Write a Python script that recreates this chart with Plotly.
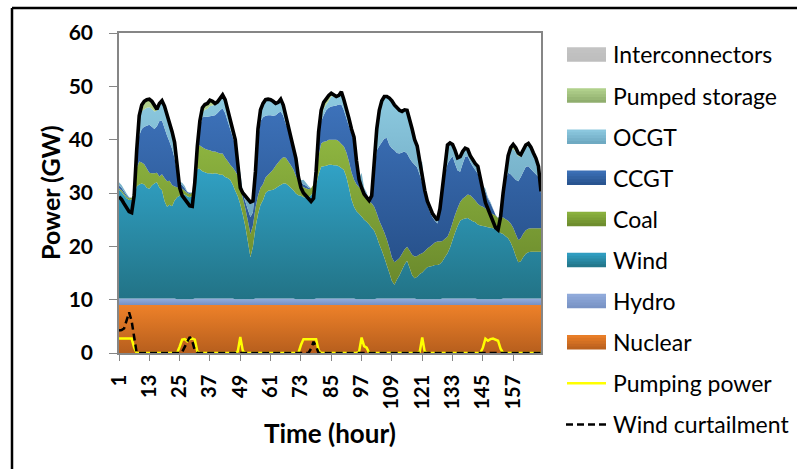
import numpy as np
import plotly.graph_objects as go

hours = list(range(1, 169))
x_tick_labels = [str(h) for h in range(1, 169, 12)]

nuclear = [
    9.0, 9.0, 9.0, 9.0, 9.0, 9.0, 9.0, 9.0, 9.0, 9.0, 9.0, 9.0, 9.0, 9.0, 9.0, 9.0, 9.0, 9.0, 9.0, 9.0, 9.0, 9.0, 9.0, 9.0,
    9.0, 9.0, 9.0, 9.0, 9.0, 9.0, 9.0, 9.0, 9.0, 9.0, 9.0, 9.0, 9.0, 9.0, 9.0, 9.0, 9.0, 9.0, 9.0, 9.0, 9.0, 9.0, 9.0, 9.0,
    9.0, 9.0, 9.0, 9.0, 9.0, 9.0, 9.0, 9.0, 9.0, 9.0, 9.0, 9.0, 9.0, 9.0, 9.0, 9.0, 9.0, 9.0, 9.0, 9.0, 9.0, 9.0, 9.0, 9.0,
    9.0, 9.0, 9.0, 9.0, 9.0, 9.0, 9.0, 9.0, 9.0, 9.0, 9.0, 9.0, 9.0, 9.0, 9.0, 9.0, 9.0, 9.0, 9.0, 9.0, 9.0, 9.0, 9.0, 9.0,
    9.0, 9.0, 9.0, 9.0, 9.0, 9.0, 9.0, 9.0, 9.0, 9.0, 9.0, 9.0, 9.0, 9.0, 9.0, 9.0, 9.0, 9.0, 9.0, 9.0, 9.0, 9.0, 9.0, 9.0,
    9.0, 9.0, 9.0, 9.0, 9.0, 9.0, 9.0, 9.0, 9.0, 9.0, 9.0, 9.0, 9.0, 9.0, 9.0, 9.0, 9.0, 9.0, 9.0, 9.0, 9.0, 9.0, 9.0, 9.0,
    9.0, 9.0, 9.0, 9.0, 9.0, 9.0, 9.0, 9.0, 9.0, 9.0, 9.0, 9.0, 9.0, 9.0, 9.0, 9.0, 9.0, 9.0, 9.0, 9.0, 9.0, 9.0, 9.0, 9.0,
]
hydro = [
    1.2, 1.2, 1.2, 1.2, 1.2, 1.2, 1.2, 1.2, 1.2, 1.2, 1.2, 1.2, 1.2, 1.2, 1.2, 1.2, 1.2, 1.2, 1.2, 1.2, 1.2, 1.2, 1.2, 1.1,
    1.1, 1.1, 1.1, 1.1, 1.1, 1.1, 1.2, 1.2, 1.2, 1.2, 1.2, 1.2, 1.2, 1.2, 1.2, 1.2, 1.2, 1.2, 1.2, 1.2, 1.2, 1.2, 1.1, 1.1,
    1.1, 1.1, 1.1, 1.1, 1.1, 1.1, 1.2, 1.2, 1.2, 1.2, 1.2, 1.2, 1.2, 1.2, 1.2, 1.2, 1.2, 1.2, 1.2, 1.2, 1.2, 1.2, 1.1, 1.1,
    1.1, 1.1, 1.1, 1.1, 1.1, 1.1, 1.2, 1.2, 1.2, 1.2, 1.2, 1.2, 1.2, 1.2, 1.2, 1.2, 1.2, 1.2, 1.2, 1.2, 1.2, 1.2, 1.1, 1.1,
    1.1, 1.1, 1.1, 1.1, 1.1, 1.1, 1.2, 1.2, 1.2, 1.2, 1.2, 1.2, 1.2, 1.2, 1.2, 1.2, 1.2, 1.2, 1.2, 1.2, 1.2, 1.2, 1.1, 1.1,
    1.1, 1.1, 1.1, 1.1, 1.1, 1.1, 1.1, 1.1, 1.2, 1.2, 1.2, 1.2, 1.2, 1.2, 1.2, 1.2, 1.2, 1.2, 1.2, 1.2, 1.2, 1.2, 1.1, 1.1,
    1.1, 1.1, 1.1, 1.1, 1.1, 1.1, 1.1, 1.1, 1.2, 1.2, 1.2, 1.2, 1.2, 1.2, 1.2, 1.2, 1.2, 1.2, 1.2, 1.2, 1.2, 1.2, 1.2, 1.2,
]
wind = [
    20.4, 20.0, 19.4, 18.8, 18.5, 18.6, 19.3, 21.0, 21.4, 21.6, 21.4, 20.8, 20.6, 21.2, 21.6, 21.8, 20.8, 20.3, 18.3, 17.2, 17.6, 17.3, 18.4, 19.1,
    19.4, 19.7, 19.6, 19.3, 19.1, 19.4, 21.3, 24.4, 24.3, 23.9, 23.7, 23.5, 23.5, 23.4, 23.5, 23.4, 23.2, 23.2, 22.8, 22.6, 22.3, 21.4, 20.3, 19.3,
    17.8, 15.8, 13.6, 10.8, 7.9, 9.8, 13.3, 15.8, 17.6, 18.5, 19.8, 20.2, 20.3, 20.4, 20.7, 21.0, 21.3, 21.6, 21.6, 21.2, 20.8, 20.3, 19.8, 19.5,
    19.4, 19.1, 19.1, 19.1, 19.5, 20.2, 21.3, 23.3, 24.7, 24.8, 24.9, 25.1, 25.1, 25.0, 25.0, 24.8, 24.5, 24.1, 22.8, 20.8, 18.6, 17.2, 16.5, 16.0,
    15.5, 14.9, 14.5, 14.0, 13.4, 12.8, 11.6, 10.2, 9.0, 7.7, 6.2, 4.8, 3.3, 2.6, 3.6, 4.4, 5.4, 6.4, 7.1, 5.8, 4.4, 3.8, 4.2, 4.7,
    5.0, 5.5, 6.0, 6.1, 6.2, 6.4, 6.4, 6.6, 7.0, 7.8, 8.5, 9.6, 11.0, 12.4, 13.6, 14.6, 14.9, 15.0, 15.1, 14.8, 14.5, 14.3, 14.0, 13.8,
    13.7, 13.6, 13.5, 13.4, 13.3, 13.1, 12.8, 12.4, 12.1, 11.7, 11.3, 10.5, 9.4, 8.0, 6.8, 7.0, 7.8, 8.4, 8.7, 8.8, 8.8, 8.8, 8.8, 8.8,
]
coal = [
    0.3, 0.3, 0.3, 0.3, 0.3, 0.3, 0.8, 3.5, 4.3, 3.9, 3.8, 3.6, 3.0, 2.3, 1.9, 1.8, 2.1, 3.0, 4.3, 4.8, 4.5, 4.0, 2.6, 1.9,
    1.4, 1.0, 0.7, 0.6, 0.6, 0.6, 2.0, 4.2, 4.4, 4.5, 4.4, 4.4, 4.3, 4.2, 4.1, 4.0, 4.0, 4.0, 3.6, 3.2, 2.8, 3.2, 3.7, 3.9,
    3.5, 3.1, 3.4, 3.9, 4.3, 4.0, 3.7, 3.5, 3.2, 3.0, 2.9, 3.0, 3.4, 3.8, 4.2, 4.5, 4.8, 4.9, 4.8, 4.5, 4.2, 3.9, 3.3, 2.6,
    2.2, 1.9, 1.7, 1.5, 1.3, 1.3, 2.0, 3.6, 4.4, 4.6, 4.6, 4.7, 4.7, 4.8, 4.8, 4.7, 4.5, 4.4, 4.6, 4.9, 5.1, 5.1, 5.0, 5.0,
    5.0, 4.9, 4.8, 4.3, 4.6, 4.5, 4.4, 4.4, 4.5, 4.7, 4.9, 4.7, 4.4, 4.2, 3.6, 3.2, 3.0, 2.8, 2.6, 3.2, 3.8, 4.1, 3.9, 3.7,
    3.6, 3.5, 3.5, 3.7, 4.0, 4.2, 4.4, 4.2, 3.8, 3.4, 3.1, 3.1, 3.2, 3.3, 3.4, 3.5, 3.8, 4.1, 4.4, 4.6, 4.4, 4.1, 3.9, 3.7,
    3.6, 3.4, 3.1, 2.8, 2.6, 2.6, 2.4, 3.0, 3.1, 3.2, 3.3, 3.6, 3.9, 4.1, 4.2, 4.3, 4.4, 4.4, 4.4, 4.4, 4.4, 4.4, 4.4, 4.4,
]
ccgt = [
    0.5, 0.5, 0.4, 0.3, 0.1, 0.0, 0.2, 2.8, 4.9, 6.3, 7.0, 8.0, 9.0, 8.7, 8.3, 8.7, 10.4, 10.1, 9.4, 8.6, 7.3, 6.8, 5.3, 2.8,
    0.8, 0.7, 0.5, 0.2, 0.2, 0.0, 0.8, 0.3, 3.6, 5.6, 6.0, 6.2, 6.4, 6.7, 6.8, 7.4, 8.1, 8.5, 8.4, 7.5, 6.7, 5.7, 5.0, 1.6,
    0.5, 0.9, 1.3, 2.1, 3.2, 2.5, 5.3, 10.5, 12.5, 12.5, 11.6, 11.2, 10.7, 10.1, 9.5, 9.3, 9.0, 7.8, 6.4, 6.1, 5.1, 4.1, 2.7, 0.4,
    0.4, 0.5, 0.5, 0.3, 0.0, 0.0, 2.8, 3.9, 4.2, 5.0, 5.8, 6.0, 6.2, 6.3, 6.4, 6.9, 7.4, 6.8, 6.4, 6.6, 7.3, 7.3, 3.8, 1.2,
    1.0, 0.6, 0.4, 0.1, 1.2, 6.5, 11.8, 14.0, 15.8, 17.6, 19.0, 19.3, 20.5, 21.0, 20.1, 19.6, 19.0, 18.4, 17.5, 17.3, 17.4, 17.2, 16.6, 14.9,
    13.2, 10.6, 8.2, 6.6, 5.2, 4.1, 3.4, 5.5, 9.5, 12.1, 13.7, 13.4, 12.5, 9.6, 7.0, 5.7, 6.6, 7.5, 7.2, 6.2, 5.9, 5.7, 5.6, 4.3,
    3.5, 3.2, 2.2, 1.8, 1.0, 0.1, 0.0, 0.7, 4.1, 7.4, 9.0, 9.2, 9.5, 10.2, 11.0, 11.5, 11.6, 11.9, 11.7, 11.1, 10.6, 10.1, 9.6, 6.6,
]
ocgt = [
    0.6, 0.5, 0.4, 0.3, 0.1, 0.0, 0.0, 0.5, 2.8, 3.3, 3.3, 3.4, 3.3, 3.4, 3.3, 2.9, 3.0, 3.2, 3.9, 4.0, 3.4, 3.2, 3.0, 1.5,
    0.4, 0.4, 0.4, 0.1, 0.1, 0.0, 0.2, 0.0, 0.7, 0.9, 1.3, 1.5, 1.9, 1.9, 2.0, 2.1, 2.3, 2.5, 2.5, 2.0, 1.5, 1.0, 0.8, 0.8,
    2.0, 0.4, 0.9, 1.8, 2.7, 2.0, 1.5, 2.0, 2.1, 2.6, 3.0, 3.0, 2.9, 2.7, 2.2, 2.0, 2.3, 2.0, 1.5, 1.0, 0.7, 0.5, 0.5, 0.3,
    0.3, 0.9, 0.5, 0.3, 0.0, 0.0, 0.3, 0.7, 0.8, 1.2, 1.1, 1.3, 1.9, 1.9, 1.7, 1.7, 2.4, 2.0, 2.0, 1.5, 0.8, 0.7, 0.5, 0.3,
    2.2, 0.5, 0.3, 0.0, 0.1, 1.0, 4.0, 6.7, 7.8, 7.9, 7.8, 8.8, 8.9, 8.5, 8.5, 8.1, 7.7, 7.8, 8.1, 7.5, 6.2, 4.7, 3.9, 2.7,
    3.9, 0.9, 0.6, 0.6, 0.6, 0.6, 0.5, 0.5, 1.0, 2.5, 3.5, 3.1, 2.2, 2.5, 2.4, 2.8, 2.3, 1.6, 1.3, 1.2, 1.2, 1.2, 1.3, 1.0,
    0.5, 0.5, 0.3, 0.2, 0.1, 0.0, 0.0, 0.0, 0.5, 1.5, 3.2, 4.5, 5.3, 5.2, 4.7, 3.9, 3.9, 3.6, 3.9, 3.9, 3.5, 3.0, 2.0, 0.3,
]
pumped_storage = [
    0.0, 0.0, 0.0, 0.0, 0.0, 0.0, 0.0, 0.0, 0.5, 1.2, 1.5, 1.5, 1.5, 1.4, 1.0, 0.3, 0.3, 0.5, 0.2, 0.0, 0.0, 0.0, 0.0, 0.0,
    0.0, 0.0, 0.0, 0.0, 0.0, 0.0, 0.0, 0.0, 0.3, 0.9, 1.0, 1.0, 1.1, 0.8, 0.2, 0.0, 0.0, 0.0, 0.0, 0.0, 0.0, 0.0, 0.0, 0.0,
    0.0, 0.0, 0.0, 0.0, 0.0, 0.0, 0.0, 0.0, 0.0, 0.0, 0.0, 0.0, 0.0, 0.0, 0.0, 0.0, 0.0, 0.0, 0.0, 0.0, 0.0, 0.0, 0.0, 0.0,
    0.0, 0.0, 0.0, 0.0, 0.0, 0.0, 0.0, 0.3, 1.0, 1.2, 1.2, 1.0, 0.6, 0.2, 0.0, 0.0, 0.0, 0.0, 0.0, 0.0, 0.0, 0.0, 0.0, 0.0,
    0.0, 0.0, 0.0, 0.0, 0.0, 0.0, 0.0, 0.0, 0.0, 0.0, 0.0, 0.0, 0.0, 0.0, 0.0, 0.0, 0.0, 0.0, 0.0, 0.0, 0.0, 0.0, 0.0, 0.0,
    0.0, 0.0, 0.0, 0.0, 0.0, 0.0, 0.0, 0.0, 0.0, 0.0, 0.0, 0.0, 0.0, 0.0, 0.0, 0.0, 0.0, 0.0, 0.0, 0.0, 0.0, 0.0, 0.0, 0.0,
    0.0, 0.0, 0.0, 0.0, 0.0, 0.0, 0.0, 0.0, 0.0, 0.0, 0.0, 0.5, 0.8, 0.8, 0.6, 0.3, 0.3, 0.5, 0.4, 0.2, 0.0, 0.0, 0.0, 0.0,
]
interconnectors = [
    0.0, 0.0, 0.0, 0.0, 0.0, 0.0, 0.0, 0.0, 0.0, 0.0, 0.0, 0.0, 0.0, 0.0, 0.0, 0.0, 0.0, 0.0, 0.0, 0.0, 0.0, 0.0, 0.0, 0.0,
    0.0, 0.0, 0.0, 0.0, 0.0, 0.0, 0.0, 0.0, 0.0, 0.0, 0.0, 0.0, 0.0, 0.0, 0.0, 0.0, 0.0, 0.0, 0.0, 0.0, 0.0, 0.0, 0.0, 0.0,
    0.0, 0.0, 0.0, 0.0, 0.0, 0.0, 0.0, 0.0, 0.0, 0.0, 0.0, 0.0, 0.0, 0.0, 0.0, 0.0, 0.0, 0.0, 0.0, 0.0, 0.0, 0.0, 0.0, 0.0,
    0.0, 0.0, 0.0, 0.0, 0.0, 0.0, 0.0, 0.0, 0.0, 0.0, 0.0, 0.0, 0.0, 0.0, 0.0, 0.0, 0.0, 0.0, 0.0, 0.0, 0.0, 0.0, 0.0, 0.0,
    0.0, 0.0, 0.0, 0.0, 0.0, 0.0, 0.0, 0.0, 0.0, 0.0, 0.0, 0.0, 0.0, 0.0, 0.0, 0.0, 0.0, 0.0, 0.0, 0.0, 0.0, 0.0, 0.0, 0.0,
    0.0, 0.0, 0.0, 0.0, 0.0, 0.0, 0.0, 0.0, 0.0, 0.0, 0.0, 0.0, 0.0, 0.0, 0.0, 0.0, 0.0, 0.0, 0.0, 0.0, 0.0, 0.0, 0.0, 0.0,
    0.0, 0.0, 0.0, 0.0, 0.0, 0.0, 0.0, 0.0, 0.0, 0.0, 0.0, 0.0, 0.0, 0.0, 0.0, 0.0, 0.0, 0.0, 0.0, 0.0, 0.0, 0.0, 0.0, 0.0,
]
demand = [
    29.3, 28.8, 28.0, 27.2, 26.5, 26.3, 29.5, 38.0, 44.5, 46.5, 47.2, 47.5, 47.6, 47.2, 46.3, 45.7, 46.8, 47.3, 46.3, 44.8, 43.0, 41.5, 39.5, 35.5,
    31.0, 29.5, 28.8, 28.2, 27.6, 27.5, 32.0, 38.8, 43.5, 46.0, 46.6, 46.8, 47.4, 47.2, 46.8, 47.1, 47.8, 48.4, 47.5, 45.5, 43.5, 41.5, 40.0, 35.5,
    31.0, 30.0, 29.4, 28.8, 28.3, 28.5, 34.0, 42.0, 45.6, 46.8, 47.5, 47.6, 47.5, 47.2, 46.8, 47.0, 47.6, 46.5, 44.5, 43.0, 41.0, 39.0, 36.5, 33.0,
    31.0, 30.0, 29.4, 28.8, 28.4, 29.0, 34.0, 41.5, 45.5, 47.0, 47.8, 48.3, 48.7, 48.4, 48.1, 48.3, 49.0, 47.5, 46.0, 44.0, 42.0, 40.5, 36.0, 32.5,
    31.0, 29.8, 29.2, 28.6, 29.5, 35.0, 42.0, 45.5, 47.3, 48.1, 48.1, 47.8, 47.3, 46.5, 46.0, 45.5, 45.3, 45.6, 45.5, 44.0, 42.0, 40.0, 38.8, 36.0,
    33.0, 30.5, 28.5, 27.2, 26.2, 25.5, 24.9, 27.0, 31.5, 36.0, 39.0, 39.4, 39.1, 38.0, 36.6, 36.8, 37.8, 38.4, 38.2, 37.0, 36.2, 35.5, 35.0, 33.0,
    30.5, 28.2, 27.0, 25.8, 24.5, 23.5, 23.1, 25.5, 30.0, 34.0, 37.0, 38.5, 39.1, 38.5, 37.5, 37.2, 38.2, 39.0, 39.3, 38.6, 37.5, 36.5, 35.0, 30.3,
]
pumping_power = [
    2.7, 2.7, 2.7, 2.7, 2.7, 2.7, 1.0, 0.0, 0.0, 0.0, 0.0, 0.0, 0.0, 0.0, 0.0, 0.0, 0.0, 0.0, 0.0, 0.0, 0.0, 0.0, 0.0, 0.0,
    1.2, 2.5, 2.6, 2.2, 2.6, 2.7, 2.5, 0.3, 0.0, 0.0, 0.0, 0.0, 0.0, 0.0, 0.0, 0.0, 0.0, 0.0, 0.0, 0.0, 0.0, 0.0, 0.0, 0.3,
    3.0, 0.4, 0.0, 0.0, 0.0, 0.0, 0.0, 0.0, 0.0, 0.0, 0.0, 0.0, 0.0, 0.0, 0.0, 0.0, 0.0, 0.0, 0.0, 0.0, 0.0, 0.0, 0.0, 0.0,
    1.5, 2.6, 2.6, 2.6, 2.6, 2.7, 2.6, 0.5, 0.0, 0.0, 0.0, 0.0, 0.0, 0.0, 0.0, 0.0, 0.0, 0.0, 0.0, 0.0, 0.0, 0.0, 0.0, 0.2,
    2.9, 1.3, 1.0, 0.0, 0.0, 0.0, 0.0, 0.0, 0.0, 0.0, 0.0, 0.0, 0.0, 0.0, 0.0, 0.0, 0.0, 0.0, 0.0, 0.0, 0.0, 0.0, 0.0, 0.2,
    2.9, 0.2, 0.0, 0.0, 0.0, 0.0, 0.0, 0.0, 0.0, 0.0, 0.0, 0.0, 0.0, 0.0, 0.0, 0.0, 0.0, 0.0, 0.0, 0.0, 0.0, 0.0, 0.0, 0.0,
    1.0, 2.7, 2.3, 2.6, 2.7, 2.5, 2.3, 0.8, 0.0, 0.0, 0.0, 0.0, 0.0, 0.0, 0.0, 0.0, 0.0, 0.0, 0.0, 0.0, 0.0, 0.0, 0.0, 0.0,
]
wind_curtailment = [
    4.2, 4.3, 4.6, 6.0, 7.6, 6.0, 2.5, 0.0, 0.0, 0.0, 0.0, 0.0, 0.0, 0.0, 0.0, 0.0, 0.0, 0.0, 0.0, 0.0, 0.0, 0.0, 0.0, 0.0,
    0.0, 0.2, 1.2, 2.3, 3.0, 2.2, 0.5, 0.0, 0.0, 0.0, 0.0, 0.0, 0.0, 0.0, 0.0, 0.0, 0.0, 0.0, 0.0, 0.0, 0.0, 0.0, 0.0, 0.0,
    0.0, 0.0, 0.0, 0.0, 0.0, 0.0, 0.0, 0.0, 0.0, 0.0, 0.0, 0.0, 0.0, 0.0, 0.0, 0.0, 0.0, 0.0, 0.0, 0.0, 0.0, 0.0, 0.0, 0.0,
    0.0, 0.0, 0.0, 0.0, 0.8, 2.1, 1.2, 0.0, 0.0, 0.0, 0.0, 0.0, 0.0, 0.0, 0.0, 0.0, 0.0, 0.0, 0.0, 0.0, 0.0, 0.0, 0.0, 0.0,
    0.0, 0.0, 0.0, 0.0, 0.0, 0.0, 0.0, 0.0, 0.0, 0.0, 0.0, 0.0, 0.0, 0.0, 0.0, 0.0, 0.0, 0.0, 0.0, 0.0, 0.0, 0.0, 0.0, 0.0,
    0.0, 0.0, 0.0, 0.0, 0.0, 0.0, 0.0, 0.0, 0.0, 0.0, 0.0, 0.0, 0.0, 0.0, 0.0, 0.0, 0.0, 0.0, 0.0, 0.0, 0.0, 0.0, 0.0, 0.0,
    0.0, 0.0, 0.0, 0.0, 0.0, 0.0, 0.0, 0.0, 0.0, 0.0, 0.0, 0.0, 0.0, 0.0, 0.0, 0.0, 0.0, 0.0, 0.0, 0.0, 0.0, 0.0, 0.0, 0.0,
]

legend_order = ["Interconnectors", "Pumped storage", "OCGT", "CCGT", "Coal",
                "Wind", "Hydro", "Nuclear", "Pumping power", "Wind curtailment"]

FONT = "Lato"

# (name, values, bottom colour, top colour)
areas = [
    ("Nuclear", nuclear, "#B65E1D", "#EE8129"),
    ("Hydro", hydro, "#7690C2", "#93ADDD"),
    ("Wind", wind, "#227386", "#31A2C6"),
    ("Coal", coal, "#6A892C", "#8EB540"),
    ("CCGT", ccgt, "#27518B", "#3D72BA"),
    ("OCGT", ocgt, "#6CA6BF", "#8ECBE1"),
    ("Pumped storage", pumped_storage, "#8CAA6A", "#B4D48F"),
    ("Interconnectors", interconnectors, "#BDBDBD", "#C4C4C4"),
]
area_colors = {n: (cb, ct) for n, _, cb, ct in areas}

fig = go.Figure()
base = np.zeros(len(hours))
for name, vals, c_bot, c_top in areas:
    v = np.asarray(vals, dtype=float)
    top = base + v
    lo = float(base.min())
    hi = float(max(top.max(), lo + 0.5))
    fig.add_trace(go.Scatter(
        x=hours, y=vals, name=name, stackgroup="gen", mode="none",
        fillgradient=dict(type="vertical", colorscale=[[0, c_bot], [1, c_top]],
                          start=lo, stop=hi),
        showlegend=False, hoverinfo="skip",
    ))
    base = top

fig.add_trace(go.Scatter(
    x=hours, y=demand, mode="lines", name="Demand",
    line=dict(color="black", width=3.6), showlegend=False, hoverinfo="skip",
))
fig.add_trace(go.Scatter(
    x=hours, y=pumping_power, mode="lines", name="Pumping power",
    line=dict(color="#FFFF00", width=2.5), showlegend=False,
))
fig.add_trace(go.Scatter(
    x=hours, y=wind_curtailment, mode="lines", name="Wind curtailment",
    line=dict(color="black", width=2.5, dash="7px,4px"), showlegend=False,
))

L, R, T, B = 119, 256, 33, 116
W, H = 797, 469
pw, ph = W - L - R, H - T - B


def px_x(p):
    return (p - L) / pw


def px_y(p):
    return (H - B - p) / ph


def mix(c1, c2, t):
    a = [int(c1[i:i + 2], 16) for i in (1, 3, 5)]
    b = [int(c2[i:i + 2], 16) for i in (1, 3, 5)]
    return "#" + "".join(f"{round(a[k] + (b[k] - a[k]) * t):02X}" for k in range(3))


shapes = [
    dict(type="line", xref="paper", yref="paper", x0=px_x(12), x1=px_x(820),
         y0=px_y(8), y1=px_y(8), line=dict(color="black", width=2.5)),
    dict(type="line", xref="paper", yref="paper", x0=px_x(12), x1=px_x(12),
         y0=px_y(8), y1=px_y(490), line=dict(color="black", width=2.5)),
]
annotations = [
    dict(text="<b>Power (GW)</b>", x=px_x(50), y=px_y(193), xref="paper", yref="paper",
         textangle=-90, showarrow=False, xanchor="center", yanchor="middle",
         font=dict(family=FONT, size=25, color="black")),
    dict(text="<b>Time (hour)</b>", x=px_x(330), y=px_y(433), xref="paper", yref="paper",
         showarrow=False, xanchor="center", yanchor="middle",
         font=dict(family=FONT, size=26, color="black")),
]

# legend (drawn manually to match swatch size and spacing)
sw_x0, sw_x1, sw_h = 567, 606, 14.5
text_x = 611
y_first, y_step = 54.5, 41.1
n_strips = 5
for i, name in enumerate(legend_order):
    yc = y_first + i * y_step
    if name in area_colors:
        c_bot, c_top = area_colors[name]
        top_px = yc - sw_h / 2
        for s in range(n_strips):
            t0 = top_px + s * sw_h / n_strips
            t1 = top_px + sw_h if s == n_strips - 1 else t0 + sw_h / n_strips + 1.0
            col = mix(c_top, c_bot, (s + 0.5) / n_strips)
            shapes.append(dict(type="rect", xref="paper", yref="paper",
                               x0=px_x(sw_x0), x1=px_x(sw_x1), y0=px_y(t1), y1=px_y(t0),
                               fillcolor=col, line=dict(width=0), layer="above"))
    elif name == "Pumping power":
        shapes.append(dict(type="line", xref="paper", yref="paper",
                           x0=px_x(sw_x0), x1=px_x(sw_x1), y0=px_y(yc), y1=px_y(yc),
                           line=dict(color="#FFFF00", width=2.5)))
    else:
        shapes.append(dict(type="line", xref="paper", yref="paper",
                           x0=px_x(sw_x0 - 1), x1=px_x(sw_x1), y0=px_y(yc), y1=px_y(yc),
                           line=dict(color="black", width=2.5, dash="7px,4px")))
    annotations.append(dict(text=name, x=px_x(text_x), y=px_y(yc), xref="paper", yref="paper",
                            showarrow=False, xanchor="left", yanchor="middle",
                            font=dict(family=FONT, size=23, color="black")))

fig.update_layout(
    width=W, height=H,
    margin=dict(l=L, r=R, t=T, b=B, pad=0),
    paper_bgcolor="white", plot_bgcolor="white",
    font=dict(family=FONT, color="black"),
    showlegend=False,
    xaxis=dict(
        range=[1, 168], tickmode="array",
        tickvals=[int(t) for t in x_tick_labels], ticktext=x_tick_labels,
        tickangle=-90, ticks="outside", ticklen=6, tickcolor="#868686",
        tickfont=dict(family=FONT, size=20, weight="bold", color="black"),
        showline=True, linecolor="#868686", linewidth=1.5, mirror=True,
        showgrid=False, zeroline=False, ticklabelstandoff=6,
    ),
    yaxis=dict(
        range=[0, 60], dtick=10, ticks="outside", ticklen=8, tickcolor="#868686",
        tickfont=dict(family=FONT, size=21, weight="bold", color="black"),
        showline=True, linecolor="#868686", linewidth=1.5, mirror=True,
        showgrid=False, zeroline=False, ticklabelstandoff=12,
    ),
    annotations=annotations,
    shapes=shapes,
)

fig.write_html("out.html")
